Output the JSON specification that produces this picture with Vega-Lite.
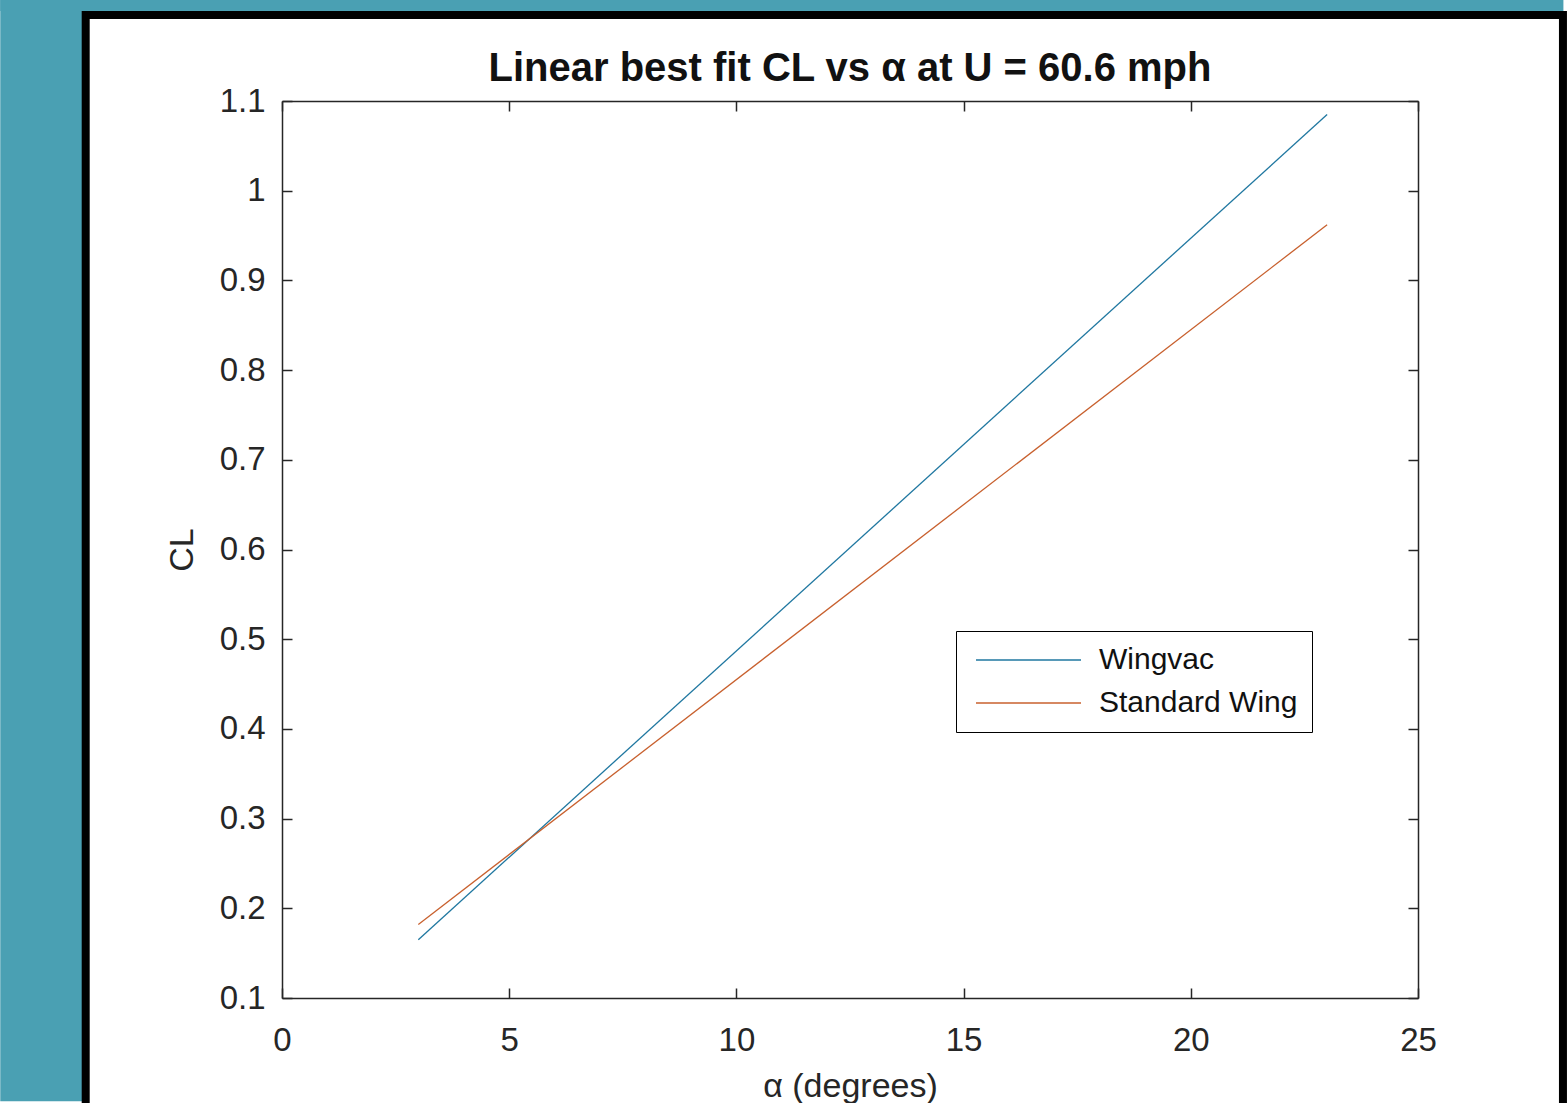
{
  "$schema": "https://vega.github.io/schema/vega-lite/v6.json",
  "autosize": {"type": "none"},
  "width": 1136,
  "height": 897,
  "padding": {"left": 282, "top": 101, "right": 149, "bottom": 105},
  "background": "#ffffff",
  "title": {
    "text": "Linear best fit CL vs α at U = 60.6 mph",
    "font": "Liberation Sans",
    "fontSize": 40,
    "fontWeight": "bold",
    "color": "#111111",
    "offset": -89
  },
  "config": {
    "view": {"stroke": null},
    "axis": {
      "domainColor": "#262626",
      "domainWidth": 1.5,
      "tickColor": "#262626",
      "tickWidth": 1.5,
      "grid": false,
      "labelFlush": false,
      "labelFont": "Liberation Sans",
      "labelFontSize": 33,
      "labelColor": "#262626",
      "titleFont": "Liberation Sans",
      "titleFontSize": 34,
      "titleFontWeight": "normal",
      "titleColor": "#262626"
    }
  },
  "layer": [
    {
      "data": {"values": [{}]},
      "mark": {"type": "rect", "fill": "#4aa0b3", "clip": false},
      "encoding": {
        "x": {"datum": -6.2, "type": "quantitative", "axis": null, "scale": {"domain": [0, 25], "nice": false, "zero": false}},
        "x2": {"datum": -4.4},
        "y": {"datum": 1.2126, "type": "quantitative", "axis": null, "scale": {"domain": [0.1, 1.1], "nice": false, "zero": false}},
        "y2": {"datum": -0.015}
      }
    },
    {
      "data": {"values": [{}]},
      "mark": {"type": "rect", "fill": "#4aa0b3", "clip": false},
      "encoding": {
        "x": {"datum": -6.2, "type": "quantitative", "axis": null},
        "x2": {"datum": 28.2},
        "y": {"datum": 1.2126, "type": "quantitative", "axis": null},
        "y2": {"datum": 1.2003}
      }
    },
    {
      "data": {"values": [{}]},
      "mark": {"type": "rect", "fill": null, "stroke": "#000000", "strokeWidth": 8, "clip": false},
      "encoding": {
        "x": {"datum": -4.32, "type": "quantitative", "axis": null},
        "x2": {"datum": 28.19},
        "y": {"datum": 1.1959, "type": "quantitative", "axis": null},
        "y2": {"datum": -0.03}
      }
    },
    {
      "data": {
        "values": [
          {"alpha": 3, "CL": 0.165, "series": "Wingvac"},
          {"alpha": 23, "CL": 1.085, "series": "Wingvac"},
          {"alpha": 3, "CL": 0.182, "series": "Standard Wing"},
          {"alpha": 23, "CL": 0.962, "series": "Standard Wing"}
        ]
      },
      "mark": {"type": "line", "strokeWidth": 1.3},
      "encoding": {
        "x": {
          "field": "alpha", "type": "quantitative",
          "scale": {"domain": [0, 25], "nice": false, "zero": false},
          "axis": {"orient": "bottom", "title": "α (degrees)", "values": [0, 5, 10, 15, 20, 25], "format": "~g", "tickSize": -10, "labelPadding": 36, "titlePadding": 12}
        },
        "y": {
          "field": "CL", "type": "quantitative",
          "scale": {"domain": [0.1, 1.1], "nice": false, "zero": false},
          "axis": {"orient": "left", "title": "CL", "values": [0.1, 0.2, 0.3, 0.4, 0.5, 0.6, 0.7, 0.8, 0.9, 1, 1.1], "format": "~g", "tickSize": -10, "labelPadding": 27, "titlePadding": 20}
        },
        "color": {
          "field": "series", "type": "nominal",
          "scale": {"domain": ["Wingvac", "Standard Wing"], "range": ["#1f77a0", "#c8602e"]},
          "legend": {
            "title": null,
            "orient": "none",
            "legendX": 674,
            "legendY": 530,
            "fillColor": "#ffffff",
            "strokeColor": "#000000",
            "padding": 14,
            "symbolType": "stroke",
            "symbolSize": 11025,
            "symbolOffset": 5,
            "symbolStrokeWidth": 1.5,
            "clipHeight": 30,
            "rowPadding": 13,
            "labelFont": "Liberation Sans",
            "labelFontSize": 30,
            "labelColor": "#111111",
            "labelOffset": 17,
            "labelLimit": 500
          }
        }
      }
    },
    {
      "data": {"values": [{}]},
      "mark": {"type": "rule", "opacity": 0},
      "encoding": {
        "x": {"datum": 0, "type": "quantitative", "axis": {"orient": "top", "title": null, "labels": false, "values": [0, 5, 10, 15, 20, 25], "tickSize": -10}},
        "y": {"datum": 0.1, "type": "quantitative", "axis": {"orient": "right", "title": null, "labels": false, "values": [0.1, 0.2, 0.3, 0.4, 0.5, 0.6, 0.7, 0.8, 0.9, 1, 1.1], "tickSize": -10}}
      }
    }
  ],
  "resolve": {"axis": {"x": "independent", "y": "independent"}}
}
